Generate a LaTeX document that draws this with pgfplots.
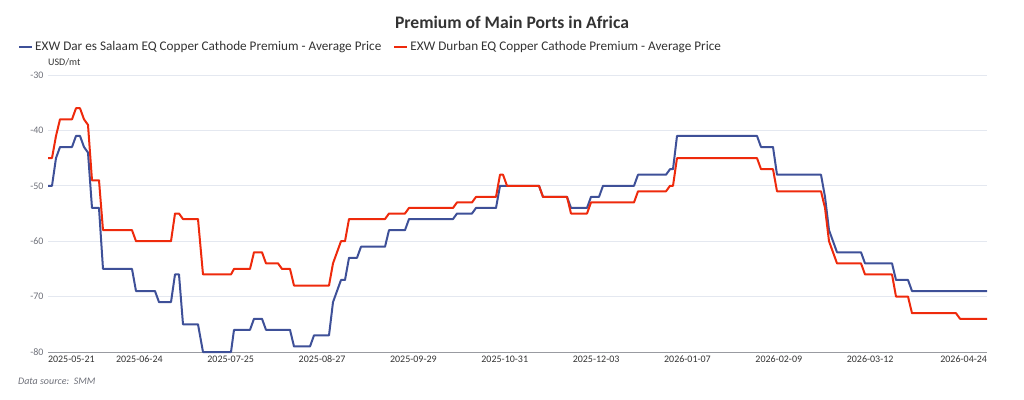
\documentclass[border=0pt]{standalone}
\usepackage{fontspec}
\setmainfont{Carlito}
\usepackage{pgfplots}
\pgfplotsset{compat=1.18}
\definecolor{serA}{RGB}{62,80,152}
\definecolor{serB}{RGB}{238,42,12}
\definecolor{gridc}{RGB}{228,232,240}
\definecolor{axc}{RGB}{110,112,121}
\definecolor{txt}{RGB}{51,51,51}
\begin{document}
\begin{tikzpicture}[x=1pt,y=1pt]
\path[use as bounding box] (0,0) rectangle (1024,399);
\begin{axis}[at={(48pt,47pt)}, anchor=south west, scale only axis,
  width=939pt, height=277pt,
  xmin=48, xmax=987, ymin=-80, ymax=-30,
  clip=false,
  axis x line*=bottom, axis y line*=left,
  y axis line style={draw=none},
  x axis line style={draw=axc!70, line width=1pt, -},
  major tick length=0pt,
  ymajorgrids, grid style={gridc, line width=1pt},
  ytick={-80,-70,-60,-50,-40,-30},
  /pgf/number format/assume math mode=true,
  yticklabel style={font=\fontsize{10}{12}\selectfont, text=axc, xshift=-1pt},
  xtick={48,139.35,230.7,322.05,413.4,504.75,596.1,687.45,778.8,870.15,987},
  xticklabels={\rlap{2025-05-21},2025-06-24,2025-07-25,2025-08-27,2025-09-29,2025-10-31,2025-12-03,2026-01-07,2026-02-09,2026-03-12,\llap{2026-04-24}},
  xticklabel style={font=\fontsize{10}{12}\selectfont, text=txt},
  legend columns=2,
  legend style={draw=none, fill=none, inner sep=0pt,
    at={(-0.0319,1.101)}, anchor=west,
    font=\fontsize{13.2}{15}\selectfont, text=txt,
    /tikz/every even column/.append style={column sep=10pt}},
  legend image code/.code={\draw[#1, line width=2pt] (0pt,0pt) -- (13pt,0pt);},
]
\addplot[serA, line width=2pt, line join=round] coordinates {
(48,-50) (52,-50) (56,-45) (60,-43) (72,-43) (76,-41) (80,-41) (84,-43) (88,-44)
(92,-54) (99,-54) (103,-65) (132,-65) (136,-69) (155,-69) (159,-71) (171,-71)
(175,-66) (179,-66) (183,-75) (198,-75) (203,-80) (231,-80) (234,-76) (250,-76)
(254,-74) (262,-74) (266,-76) (290,-76) (294,-79) (310,-79) (314,-77) (329,-77)
(333,-71) (337,-69) (341,-67) (345,-67) (349,-63) (357,-63) (361,-61) (385,-61)
(389,-58) (405,-58) (409,-56) (453,-56) (457,-55) (472,-55) (476,-54) (496,-54)
(500,-50) (539,-50) (543,-52) (567,-52) (571,-54) (587,-54) (591,-52) (599,-52)
(603,-50) (634,-50) (638,-48) (666,-48) (670,-47) (673,-47) (677,-41) (757,-41)
(761,-43) (773,-43) (777,-48) (821,-48) (825,-52) (829,-58) (833,-60) (837,-62)
(861,-62) (865,-64) (892,-64) (896,-67) (908,-67) (912,-69) (987,-69)
};
\addlegendentry{EXW Dar es Salaam EQ Copper Cathode Premium - Average Price}
\addplot[serB, line width=2pt, line join=round] coordinates {
(48,-45) (52,-45) (56,-41) (60,-38) (72,-38) (76,-36) (80,-36) (84,-38) (88,-39)
(92,-49) (99,-49) (103,-58) (132,-58) (136,-60) (171,-60) (175,-55) (179,-55)
(183,-56) (198,-56) (203,-66) (231,-66) (234,-65) (250,-65) (254,-62) (262,-62)
(266,-64) (278,-64) (282,-65) (290,-65) (294,-68) (329,-68) (333,-64) (337,-62)
(341,-60) (345,-60) (349,-56) (385,-56) (389,-55) (405,-55) (409,-54) (453,-54)
(457,-53) (472,-53) (476,-52) (496,-52) (500,-48) (503,-48) (507,-50) (539,-50)
(543,-52) (567,-52) (571,-55) (587,-55) (591,-53) (634,-53) (638,-51) (666,-51)
(670,-50) (673,-50) (677,-45) (757,-45) (761,-47) (773,-47) (777,-51) (821,-51)
(825,-54) (829,-60) (833,-62) (837,-64) (861,-64) (865,-66) (892,-66) (896,-70)
(908,-70) (912,-73) (956,-73) (960,-74) (987,-74)
};
\addlegendentry{EXW Durban EQ Copper Cathode Premium - Average Price}
\end{axis}
\node[font=\fontsize{17.6}{20}\selectfont\bfseries, text=txt] at (512,377) {Premium of Main Ports in Africa};
\node[font=\fontsize{10}{12}\selectfont, text=txt, anchor=west, inner sep=0pt] at (48,337) {USD/mt};
\node[font=\fontsize{10}{12}\selectfont\itshape, text=axc, anchor=west, inner sep=0pt] at (18,18) {Data source:\ \ SMM};
\end{tikzpicture}
\end{document}
